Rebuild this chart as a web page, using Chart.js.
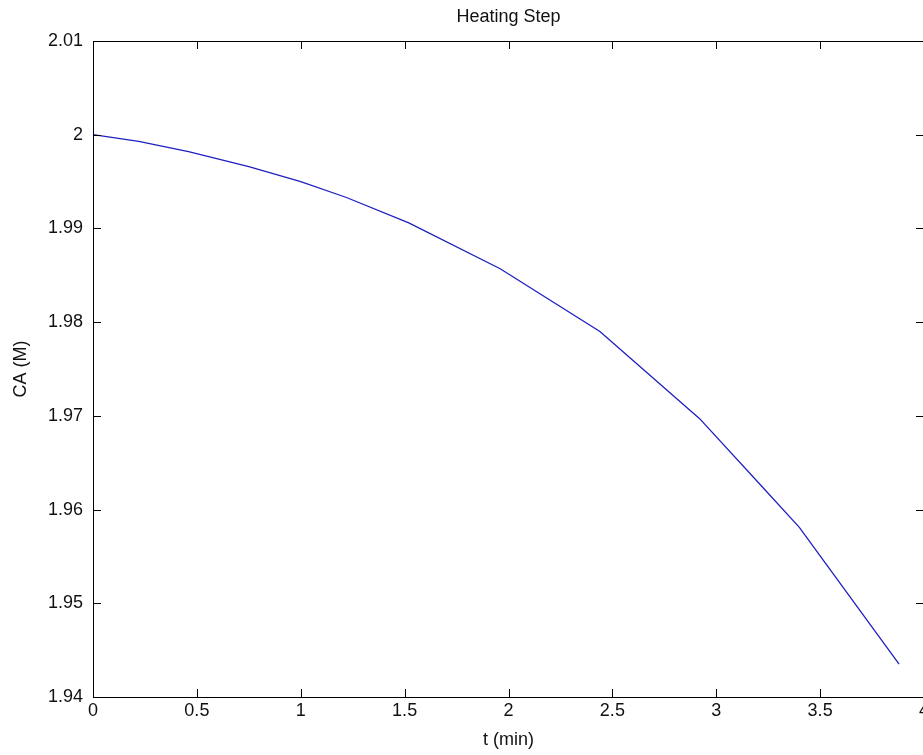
<!DOCTYPE html>
<html>
<head>
<meta charset="utf-8">
<title>Heating Step</title>
<script src="https://cdn.jsdelivr.net/npm/chart.js@4.4.1/dist/chart.umd.min.js"></script>
<style>
  html, body { margin: 0; padding: 0; overflow: hidden; background: #fff; }
  #wrap { width: 940px; height: 755px; }
</style>
</head>
<body>
<div id="wrap"><canvas id="heatChart" width="940" height="755"></canvas></div>
<script>
// values (t in min, CA in M)
const tValues  = [0, 0.22, 0.46, 0.75, 1.0, 1.22, 1.52, 1.96, 2.44, 2.92, 3.21, 3.40, 3.88];
const caValues = [2.0000, 1.9993, 1.9982, 1.9966, 1.9950, 1.9933, 1.9906, 1.9857, 1.9790, 1.9697, 1.9627, 1.9581, 1.9435];

const xTickValues = [0, 0.5, 1, 1.5, 2, 2.5, 3, 3.5, 4];
const xTickLabels = ['0', '0.5', '1', '1.5', '2', '2.5', '3', '3.5', '4'];
const yTickValues = [1.94, 1.95, 1.96, 1.97, 1.98, 1.99, 2.00, 2.01];
const yTickLabels = ['1.94', '1.95', '1.96', '1.97', '1.98', '1.99', '2', '2.01'];

const FONT = '"Liberation Sans", Arial, Helvetica, sans-serif';

// box around the axes with inward ticks on all four sides, matlab style
const matlabFrame = {
  id: 'matlabFrame',
  afterDatasetsDraw(chart) {
    const {ctx, chartArea: a, scales} = chart;
    const len = 8;
    ctx.save();
    ctx.strokeStyle = '#000';
    ctx.lineWidth = 1;
    ctx.beginPath();
    scales.x.ticks.forEach(t => {
      const px = Math.round(scales.x.getPixelForValue(t.value)) + 0.5;
      ctx.moveTo(px, a.bottom); ctx.lineTo(px, a.bottom - len);
      ctx.moveTo(px, a.top); ctx.lineTo(px, a.top + len);
    });
    scales.y.ticks.forEach(t => {
      const py = Math.round(scales.y.getPixelForValue(t.value)) + 0.5;
      ctx.moveTo(a.left, py); ctx.lineTo(a.left + len, py);
      ctx.moveTo(a.right, py); ctx.lineTo(a.right - len, py);
    });
    ctx.stroke();
    ctx.strokeRect(a.left + 0.5, a.top + 0.5, a.right - a.left, a.bottom - a.top);
    ctx.restore();
  }
};

const ctx = document.getElementById('heatChart').getContext('2d');
new Chart(ctx, {
  type: 'line',
  data: {
    datasets: [{
      data: tValues.map((t, i) => ({x: t, y: caValues[i]})),
      borderColor: '#1f1fc0',
      borderWidth: 1.3,
      pointRadius: 0,
      tension: 0,
      fill: false
    }]
  },
  options: {
    responsive: false,
    animation: false,
    layout: {padding: {left: 0, right: 16, top: 0, bottom: 0}},
    plugins: {
      legend: {display: false},
      tooltip: {enabled: false},
      title: {
        display: true,
        text: 'Heating Step',
        fullSize: false,
        color: '#111',
        font: {family: FONT, size: 18, weight: 'normal'},
        padding: {top: 6, bottom: 13.4}
      }
    },
    scales: {
      x: {
        type: 'linear',
        min: 0,
        max: 4,
        afterBuildTicks: s => { s.ticks = xTickValues.map(v => ({value: v})); },
        afterFit: s => { s.height = 58; },
        grid: {display: false, drawTicks: false},
        border: {display: false},
        ticks: {
          color: '#111',
          padding: 3,
          maxRotation: 0,
          font: {family: FONT, size: 18},
          callback: (v, i) => xTickLabels[i]
        },
        title: {
          display: true,
          text: 't (min)',
          color: '#111',
          font: {family: FONT, size: 18},
          padding: {top: 0, bottom: 4}
        }
      },
      y: {
        type: 'linear',
        min: 1.94,
        max: 2.01,
        afterBuildTicks: s => { s.ticks = yTickValues.map(v => ({value: v})); },
        afterFit: s => { s.width = 93; },
        grid: {display: false, drawTicks: false},
        border: {display: false},
        ticks: {
          color: '#111',
          padding: 10,
          font: {family: FONT, size: 18},
          callback: (v, i) => yTickLabels[i]
        },
        title: {
          display: true,
          text: 'CA (M)',
          color: '#111',
          font: {family: FONT, size: 18},
          padding: {top: 10, bottom: 0}
        }
      }
    }
  },
  plugins: [matlabFrame]
});
</script>
</body>
</html>
